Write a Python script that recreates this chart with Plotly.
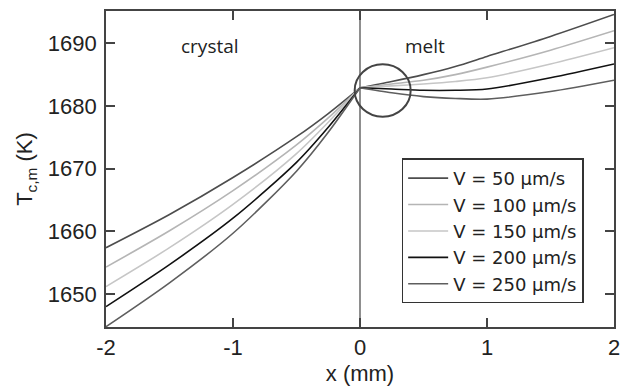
import plotly.graph_objects as go

# positions along growth axis (mm)
x_mm = [-2, -1.5, -1, -0.5, -0.25, 0, 0.25, 0.5, 0.75, 1, 1.5, 2]

# T_c,m (K), one list per pulling rate
T_v50 = [1657.4, 1662.7, 1668.6, 1675.1, 1678.8, 1682.9, 1683.9, 1685.0, 1686.3, 1687.9, 1691.1, 1694.6]
T_v100 = [1654.3, 1660.1, 1666.5, 1673.8, 1678.1, 1682.9, 1683.5, 1684.1, 1685.0, 1686.2, 1688.9, 1692.0]
T_v150 = [1651.2, 1657.4, 1664.3, 1672.4, 1677.4, 1682.9, 1683.2, 1683.5, 1683.9, 1684.5, 1686.7, 1689.3]
T_v200 = [1648.0, 1654.7, 1662.1, 1671.0, 1676.6, 1682.9, 1682.7, 1682.5, 1682.5, 1682.7, 1684.5, 1686.7]
T_v250 = [1644.8, 1651.8, 1659.7, 1669.6, 1675.8, 1682.9, 1682.1, 1681.5, 1681.2, 1681.1, 1682.3, 1684.1]

series_names = ["V = 50 \u03bcm/s", "V = 100 \u03bcm/s", "V = 150 \u03bcm/s",
                "V = 200 \u03bcm/s", "V = 250 \u03bcm/s"]
series_vals = [T_v50, T_v100, T_v150, T_v200, T_v250]
colors = ["#4d4d4d", "#b5b5b5", "#c6c6c6", "#111111", "#5e5e5e"]

x_ticks = [-2, -1, 0, 1, 2]
x_ticktext = ["-2", "-1", "0", "1", "2"]
y_ticks = [1650, 1660, 1670, 1680, 1690]

FONT = "Liberation Sans, Arial, sans-serif"

fig = go.Figure()

i0 = x_mm.index(0)
for name, vals, col in zip(series_names, series_vals, colors):
    # crystal side
    fig.add_trace(go.Scatter(
        x=x_mm[:i0 + 1], y=vals[:i0 + 1], mode="lines", name=name,
        legendgroup=name, showlegend=True,
        line=dict(color=col, width=1.6, shape="spline", smoothing=0.8)))
    # melt side
    fig.add_trace(go.Scatter(
        x=x_mm[i0:], y=vals[i0:], mode="lines", name=name,
        legendgroup=name, showlegend=False,
        line=dict(color=col, width=1.6, shape="spline", smoothing=0.8)))

# interface line at x = 0
fig.add_shape(type="line", xref="x", yref="paper", x0=0, x1=0, y0=0, y1=1,
              line=dict(color="#444444", width=1.2), layer="below")
# circle around the interface
fig.add_shape(type="circle", xref="x", yref="y",
              x0=-0.042, x1=0.399, y0=1678.3, y1=1686.65,
              line=dict(color="#444444", width=2))

fig.add_annotation(x=-1.18, y=1689.5, text="crystal", showarrow=False,
                   font=dict(family="Open Sans, sans-serif", size=19, color="#222"))
fig.add_annotation(x=0.51, y=1689.5, text="melt", showarrow=False,
                   font=dict(family="Open Sans, sans-serif", size=19, color="#222"))

axis_common = dict(
    showgrid=False, zeroline=False, showline=True, linecolor="#444444",
    linewidth=1.8, mirror="ticks", ticks="inside", ticklen=9, tickwidth=1.6,
    tickcolor="#444444", tickfont=dict(family=FONT, size=22, color="#222"),
    automargin=False,
)

fig.update_xaxes(range=[-2, 2], tickvals=x_ticks, ticktext=x_ticktext,
                 title=dict(text="x (mm)", font=dict(family=FONT, size=22, color="#222"),
                            standoff=6),
                 **axis_common)
fig.update_yaxes(range=[1644.75, 1695.15], tickvals=y_ticks,
                 ticklabelstandoff=3,
                 title=dict(text="T<sub>c,m</sub> (K)",
                            font=dict(family=FONT, size=22, color="#222"), standoff=9),
                 **axis_common)

fig.update_layout(
    width=630, height=387,
    margin=dict(l=106, r=16, t=11, b=60),
    paper_bgcolor="white", plot_bgcolor="white",
    font=dict(family=FONT, size=20, color="#222"),
    legend=dict(x=0.582, y=0.304, xanchor="left", yanchor="middle",
                bgcolor="white", bordercolor="#333333", borderwidth=1.5,
                font=dict(family="DejaVu Sans, sans-serif", size=18, color="#222"),
                itemwidth=40, tracegroupgap=0),
    showlegend=True,
)

fig.write_html("out.html", config={"displayModeBar": False},
               post_script="document.body.style.margin='0';")
